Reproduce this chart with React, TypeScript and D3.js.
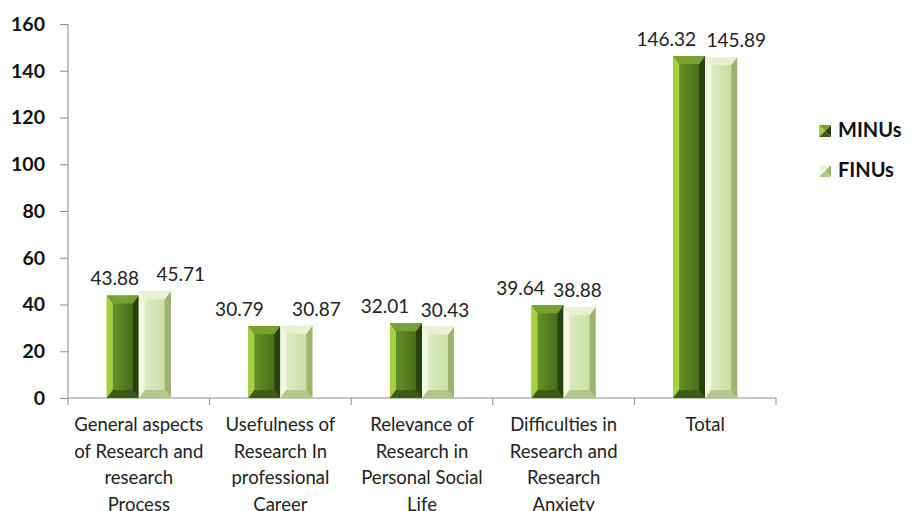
import React, { useEffect, useRef } from "react";
import * as d3 from "d3";

const categories = [
  ["General aspects", "of Research and", "research", "Process"],
  ["Usefulness of", "Research In", "professional", "Career"],
  ["Relevance of", "Research in", "Personal Social", "Life"],
  ["Difficulties in", "Research and", "Research", "Anxiety"],
  ["Total"],
];
const minus = [43.88, 30.79, 32.01, 39.64, 146.32];
const finus = [45.71, 30.87, 30.43, 38.88, 145.89];
const seriesNames = ["MINUs", "FINUs"];
const yTicks = [0, 20, 40, 60, 80, 100, 120, 140, 160];

// data labels were nudged sideways in the original, horizontal shift per label (px)
const labelShift = [
  [-8, -25, -21, -27, -23],
  [26, 20, 7, -2, 15],
];

// face colours: front-left, front-right, left bevel, top bevel, right bevel, bottom bevel
const palettes = [
  { f0: "#6a9a2c", f1: "#3f6616", left: "#a6d040", top: "#76a232", right: "#27420c", bottom: "#3c5c16" },
  { f0: "#e4f0cc", f1: "#c6da9c", left: "#f2f8e2", top: "#e8f2d2", right: "#9cb46e", bottom: "#b2c88a" },
];

const App = () => {
  const svgRef = useRef<SVGSVGElement>(null);

  useEffect(() => {
    const width = 918;
    const height = 511;
    const margin = { top: 24, left: 68, right: 142, bottom: 113 };
    const svg = d3.select(svgRef.current);
    svg.selectAll("*").remove();
    svg.attr("width", width).attr("height", height);

    const font = "Lato, 'Noto Sans', sans-serif";
    const defs = svg.append("defs");
    palettes.forEach((p, i) => {
      const g = defs.append("linearGradient").attr("id", `front${i}`).attr("x1", "0").attr("x2", "1");
      g.append("stop").attr("offset", "0").attr("stop-color", p.f0);
      g.append("stop").attr("offset", "1").attr("stop-color", p.f1);
    });

    const x = d3
      .scaleBand<number>()
      .domain(categories.map((_, i) => i))
      .range([margin.left, width - margin.right]);
    const y = d3.scaleLinear().domain([0, 160]).range([height - margin.bottom, margin.top]);
    const barW = 32;

    // y axis
    const yAxis = svg
      .append("g")
      .attr("transform", `translate(${margin.left},0)`)
      .call(d3.axisLeft(y).tickValues(yTicks).tickSize(8).tickPadding(15));
    yAxis.select(".domain").attr("stroke", "#8c8c8c").attr("d", `M0,${y(160)}V${y(0)}`);
    yAxis.selectAll(".tick line").attr("stroke", "#8c8c8c");
    yAxis
      .selectAll(".tick text")
      .attr("font-family", font)
      .attr("font-size", 19.5)
      .attr("font-weight", "bold")
      .attr("fill", "#111");

    // x axis
    const x0 = y(0);
    svg
      .append("line")
      .attr("x1", margin.left)
      .attr("x2", width - margin.right)
      .attr("y1", x0)
      .attr("y2", x0)
      .attr("stroke", "#8c8c8c");
    const edges = categories.map((_, i) => x(i)!).concat([width - margin.right]);
    svg
      .selectAll(".xtick")
      .data(edges)
      .enter()
      .append("line")
      .attr("x1", (d) => d)
      .attr("x2", (d) => d)
      .attr("y1", x0)
      .attr("y2", x0 + 7)
      .attr("stroke", "#8c8c8c");

    categories.forEach((lines, i) => {
      const cx = x(i)! + x.bandwidth() / 2;
      const t = svg
        .append("text")
        .attr("x", cx)
        .attr("y", 431)
        .attr("text-anchor", "middle")
        .attr("font-family", font)
        .attr("font-size", 18.5)
        .attr("fill", "#222");
      lines.forEach((l, j) => t.append("tspan").attr("x", cx).attr("dy", j === 0 ? 0 : 26.5).text(l));
    });

    // bevelled bar
    const drawBar = (g: any, bx: number, top: number, bot: number, p: number) => {
      const c = palettes[p];
      const b = 6;
      const bt = Math.min(8, (bot - top) / 2);
      const r = bx + barW;
      const poly = (pts: number[][], fill: string) =>
        g.append("polygon").attr("points", pts.map((q) => q.join(",")).join(" ")).attr("fill", fill);
      poly([[bx, top], [r, top], [r, bot], [bx, bot]], `url(#front${p})`);
      poly([[bx, top], [bx + b, top + bt], [bx + b, bot - bt], [bx, bot]], c.left);
      poly([[r, top], [r - b, top + bt], [r - b, bot - bt], [r, bot]], c.right);
      poly([[bx, top], [r, top], [r - b, top + bt], [bx + b, top + bt]], c.top);
      poly([[bx, bot], [r, bot], [r - b, bot - bt], [bx + b, bot - bt]], c.bottom);
    };

    const bars = svg.append("g");
    [minus, finus].forEach((vals, s) => {
      vals.forEach((v, i) => {
        const bx = x(i)! + x.bandwidth() / 2 - barW + s * barW;
        drawBar(bars, bx, y(v), y(0), s);
        svg
          .append("text")
          .attr("x", bx + barW / 2 + labelShift[s][i])
          .attr("y", y(v) - 10)
          .attr("text-anchor", "middle")
          .attr("font-family", font)
          .attr("font-size", 19)
          .attr("fill", "#222")
          .text(v.toFixed(2));
      });
    });

    // legend
    function drawBarLegend(g: any, lx: number, ly: number, p: number) {
      const c = palettes[p];
      const s = 12;
      const m = s / 2;
      const poly = (pts: number[][], fill: string) =>
        g.append("polygon").attr("points", pts.map((q) => q.join(",")).join(" ")).attr("fill", fill);
      poly([[lx, ly], [lx + m, ly + m], [lx, ly + s]], c.left);
      poly([[lx + s, ly], [lx + m, ly + m], [lx + s, ly + s]], c.right);
      poly([[lx, ly], [lx + s, ly], [lx + m, ly + m]], c.top);
      poly([[lx, ly + s], [lx + s, ly + s], [lx + m, ly + m]], c.bottom);
    }

    seriesNames.forEach((name, i) => {
      const base = 137 + i * 40;
      drawBarLegend(svg.append("g"), 819, base - 12, i);
      svg
        .append("text")
        .attr("x", 838)
        .attr("y", base)
        .attr("font-family", font)
        .attr("font-size", 20)
        .attr("font-weight", "bold")
        .attr("fill", "#111")
        .text(name);
    });
  }, []);

  return <svg ref={svgRef} style={{ display: "block", position: "absolute", left: 0, top: 0 }}></svg>;
};

export default App;
